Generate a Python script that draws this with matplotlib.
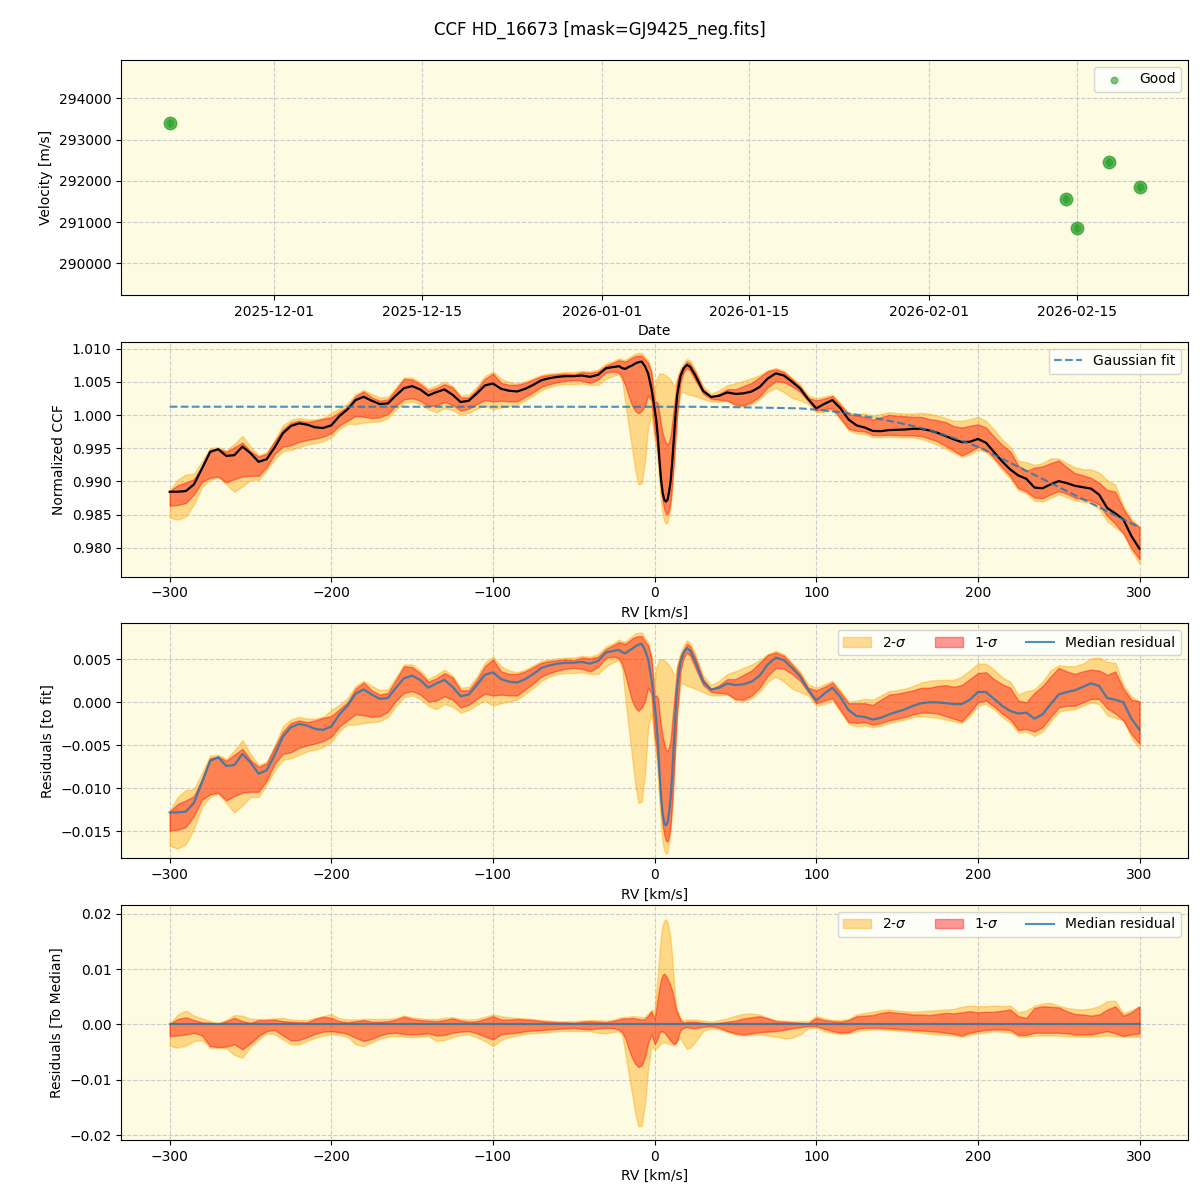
import numpy as np
import pandas as pd
import matplotlib
matplotlib.use("Agg")
import matplotlib.pyplot as plt
import matplotlib.dates as mdates
from matplotlib.patches import Patch
from matplotlib.lines import Line2D

# ---------------- data ----------------
obs_dates = pd.to_datetime(["2025-11-21 02:00", "2026-02-14 00:30", "2026-02-15 00:00",
                            "2026-02-18 01:00", "2026-02-20 23:00"])
obs_vel = [293394, 291552, 290848, 292448, 291842]
obs_err = [110, 110, 110, 110, 110]

rv = np.concatenate([np.arange(-300, -24, 5),
                     [-22, -20, -18, -16, -14, -12, -10, -8, -6, -4, -2,
                      0, 1, 2, 3, 4, 5, 6, 7, 8, 9, 10, 11, 12, 13, 14, 16, 18, 20, 22],
                     np.arange(25, 301, 5)]).astype(float)

# Gaussian fit to the CCF
gauss_fit = [
    # -300 .. -25
    1.00125, 1.00125, 1.00125, 1.00125, 1.00125, 1.00125, 1.00125, 1.00125, 1.00125, 1.00125,
    1.00125, 1.00125, 1.00125, 1.00125, 1.00125, 1.00125, 1.00125, 1.00125, 1.00125, 1.00125,
    1.00125, 1.00125, 1.00125, 1.00125, 1.00125, 1.00125, 1.00125, 1.00125, 1.00125, 1.00125,
    1.00125, 1.00125, 1.00125, 1.00125, 1.00125, 1.00125, 1.00125, 1.00125, 1.00125, 1.00125,
    1.00125, 1.00125, 1.00125, 1.00125, 1.00125, 1.00125, 1.00125, 1.00125, 1.00125, 1.00125,
    1.00125, 1.00125, 1.00125, 1.00125, 1.00125, 1.00125,
    # -22 .. 22
    1.00125, 1.00125, 1.00125, 1.00125, 1.00125, 1.00125, 1.00125, 1.00125, 1.00125, 1.00125,
    1.00125, 1.00125, 1.00125, 1.00125, 1.00125, 1.00125, 1.00125, 1.00125, 1.00125, 1.00125,
    1.00125, 1.00125, 1.00125, 1.00125, 1.00125, 1.00125, 1.00125, 1.00125, 1.00125, 1.00125,
    # 25 .. 300
    1.00124, 1.00123, 1.00122, 1.00121, 1.00120, 1.00118, 1.00116, 1.00114, 1.00112, 1.00110,
    1.00108, 1.00105, 1.00102, 1.00100, 1.00090, 1.00080, 1.00068, 1.00055, 1.00040, 1.00023,
    1.00003, 0.99982, 0.99960, 0.99937, 0.99913, 0.99888, 0.99862, 0.99833, 0.99802, 0.99768,
    0.99732, 0.99694, 0.99654, 0.99612, 0.99567, 0.99520, 0.99463, 0.99403, 0.99342, 0.99281,
    0.99220, 0.99159, 0.99098, 0.99037, 0.98976, 0.98915, 0.98855, 0.98794, 0.98733, 0.98672,
    0.98611, 0.98550, 0.98489, 0.98428, 0.98367, 0.98306,
]

# median residual to the fit (units of 1e-3)
med_res_e3 = [
    -12.8, -12.8, -12.7, -11.7, -9.3, -6.8, -6.4, -7.4, -7.3, -6.0,
    -7.0, -8.3, -7.9, -6.1, -4.0, -2.9, -2.5, -2.7, -3.1, -3.2,
    -2.8, -1.4, -0.4, 1.0, 1.5, 0.9, 0.4, 0.5, 1.7, 2.8,
    3.1, 2.6, 1.7, 2.2, 2.6, 1.8, 0.7, 0.9, 2.0, 3.2,
    3.5, 2.7, 2.4, 2.3, 2.7, 3.3, 4.0, 4.3, 4.5, 4.6,
    4.6, 4.7, 4.5, 4.8, 5.8, 6.0,
    # -22 .. 22
    6.1, 5.8, 5.7, 6.0, 6.2, 6.5, 6.7, 6.8, 6.1, 5.0, 2.8,
    -0.3, -2.0, -4.5, -8.0, -11.0, -13.0, -14.0, -14.3, -14.0, -12.8, -11.0, -8.0, -4.5, -1.0, 1.8,
    4.6, 5.8, 6.3, 6.0,
    # 25 .. 300
    4.8, 2.4, 1.5, 1.7, 2.2, 2.0, 2.1, 2.4, 3.1, 4.4,
    5.2, 4.9, 4.0, 3.0, 1.5, 0.2, 1.0, 1.7, 0.6, -0.9,
    -1.6, -1.7, -2.0, -1.8, -1.4, -1.1, -0.8, -0.4, -0.1, 0.0,
    0.0, -0.1, -0.2, -0.2, 0.3, 1.2, 1.2, 0.4, -0.4, -1.0,
    -1.3, -1.2, -1.9, -1.4, -0.2, 0.9, 1.2, 1.4, 1.8, 2.2,
    1.9, 0.5, 0.3, 0.0, -1.9, -3.2,
]

# spread of individual CCFs around the median (units of 1e-3)
sig1_hi_e3 = [
    0.1, 1.0, 1.3, 0.8, 0.4, 0.3, 0.1, 0.6, 1.2, 0.6,
    0.3, 0.8, 0.8, 0.9, 0.6, 0.5, 0.4, 0.4, 1.0, 1.4,
    1.2, 0.6, 0.4, 0.6, 0.8, 0.5, 0.5, 0.6, 0.9, 1.4,
    1.0, 0.8, 0.7, 0.6, 0.8, 1.1, 0.7, 0.5, 0.6, 1.0,
    1.5, 0.9, 0.9, 1.0, 0.9, 0.8, 0.6, 0.5, 0.4, 0.4,
    0.3, 0.5, 0.6, 0.5, 0.4, 0.7,
    0.9, 1.1, 1.1, 1.1, 1.2, 1.1, 1.0, 0.9, 1.0, 1.6, 2.4,
    1.0, 2.8, 5.0, 6.8, 8.2, 9.0, 9.2, 8.8, 8.3, 7.6, 6.8, 6.0, 4.6, 3.0, 2.2,
    0.8, 0.3, 0.5, 0.5,
    0.5, 0.3, 0.0, 0.3, 0.5, 0.7, 1.1, 1.3, 1.5, 1.1,
    0.6, 0.5, 0.4, 0.3, 0.2, 1.2, 0.8, 0.6, 0.5, 0.8,
    1.5, 1.6, 1.7, 2.1, 2.3, 2.1, 2.0, 1.8, 1.8, 1.7,
    1.9, 2.1, 2.0, 2.2, 2.4, 2.2, 2.3, 2.3, 2.5, 2.7,
    1.5, 1.2, 3.0, 3.3, 3.2, 3.1, 2.4, 1.9, 1.8, 1.6,
    1.8, 2.7, 3.3, 1.6, 2.2, 3.3,
]
sig2_hi_e3 = [
    0.2, 1.8, 2.5, 1.6, 1.1, 0.6, 0.3, 0.8, 1.7, 1.6,
    1.0, 1.0, 1.0, 1.1, 1.2, 0.9, 0.8, 0.8, 1.2, 1.5,
    1.9, 1.1, 0.9, 0.9, 1.0, 1.0, 1.0, 1.0, 1.2, 1.6,
    1.3, 1.1, 1.0, 1.0, 1.2, 1.3, 1.0, 0.9, 1.0, 1.4,
    1.8, 1.5, 1.3, 1.2, 1.1, 1.0, 0.8, 0.7, 0.6, 0.6,
    0.6, 0.7, 0.8, 0.8, 0.7, 0.9,
    1.2, 1.3, 1.4, 1.4, 1.5, 1.5, 1.4, 1.3, 1.4, 2.0, 2.6,
    2.5, 6.0, 9.0, 13.0, 16.0, 18.0, 18.8, 19.0, 18.5, 17.1, 15.0, 11.6, 7.7, 4.2, 2.6,
    1.2, 0.8, 0.9, 0.9,
    0.9, 0.7, 0.5, 0.8, 1.1, 1.6, 1.9, 2.0, 1.8, 1.2,
    0.8, 0.7, 0.6, 0.6, 0.6, 1.5, 1.1, 0.8, 0.8, 1.0,
    1.8, 2.1, 2.3, 2.6, 2.7, 2.5, 2.4, 2.3, 2.4, 2.5,
    2.6, 2.7, 2.8, 3.2, 3.4, 3.3, 3.3, 3.4, 3.3, 3.4,
    2.2, 2.5, 3.4, 3.8, 3.9, 3.4, 3.0, 2.8, 2.7, 2.9,
    3.3, 4.2, 4.3, 2.0, 2.6, 3.3,
]
sig1_lo_e3 = [
    -2.1, -2.0, -1.8, -1.5, -2.0, -3.9, -4.1, -4.0, -3.6, -4.5,
    -3.4, -2.1, -1.2, -1.0, -2.0, -2.9, -2.8, -2.3, -1.7, -1.3,
    -1.2, -1.4, -1.7, -2.4, -3.0, -2.6, -2.0, -1.6, -1.5, -1.7,
    -1.8, -1.7, -1.6, -2.0, -1.9, -1.5, -1.3, -1.2, -1.6, -2.2,
    -2.7, -1.8, -1.6, -1.5, -1.2, -1.1, -1.0, -0.9, -0.8, -0.7,
    -0.6, -0.8, -0.9, -0.7, -0.6, -0.7,
    -1.0, -1.4, -2.6, -4.4, -6.0, -7.1, -7.7, -7.4, -6.0, -3.3, -1.8,
    -3.5, -3.1, -2.4, -1.5, -1.2, -1.3, -1.4, -1.8, -2.2, -2.6, -3.0, -3.3, -3.5, -3.4, -2.8,
    -1.0, -0.6, -0.5, -0.6,
    -0.7, -0.4, -0.3, -0.6, -1.2, -1.6, -1.8, -1.6, -1.4, -1.3,
    -1.2, -1.0, -0.7, -0.5, -0.3, -0.3, -0.8, -1.2, -1.5, -1.4,
    -0.8, -0.6, -0.6, -0.6, -0.7, -0.8, -0.9, -1.0, -1.1, -1.2,
    -1.3, -1.5, -1.7, -2.0, -1.5, -1.2, -1.0, -0.9, -0.9, -1.0,
    -1.9, -1.9, -1.5, -1.5, -1.5, -1.5, -1.6, -1.8, -1.8, -1.8,
    -1.5, -1.2, -1.6, -2.1, -1.8, -1.6,
]
sig2_lo_e3 = [
    -3.9, -4.2, -3.8, -3.0, -2.8, -4.2, -4.2, -4.3, -5.5, -6.0,
    -4.0, -2.7, -1.6, -1.8, -2.7, -3.6, -3.6, -3.0, -2.4, -2.0,
    -1.8, -1.9, -2.2, -3.6, -3.9, -3.2, -2.6, -2.2, -2.1, -2.2,
    -2.3, -2.2, -2.1, -3.0, -2.8, -2.3, -1.9, -1.8, -2.3, -3.0,
    -3.9, -2.8, -2.3, -2.0, -1.7, -1.6, -1.5, -1.3, -1.2, -1.2,
    -1.2, -1.2, -1.2, -1.5, -1.6, -1.3,
    -1.2, -2.0, -5.4, -9.0, -12.4, -16.0, -18.4, -18.3, -14.5, -8.0, -4.0,
    -4.5, -4.3, -4.0, -3.7, -3.4, -3.3, -3.2, -3.3, -3.4, -3.5, -3.6, -3.7, -3.8, -3.6, -3.0,
    -2.4, -3.6, -4.4, -4.2,
    -3.2, -1.2, -0.7, -0.9, -1.3, -1.8, -2.0, -1.9, -1.8, -2.0,
    -2.2, -2.5, -2.4, -1.8, -0.7, -0.6, -1.2, -1.5, -1.7, -1.6,
    -1.2, -1.0, -0.9, -0.9, -1.0, -1.1, -1.2, -1.3, -1.5, -1.7,
    -1.8, -1.9, -2.0, -2.2, -1.9, -1.6, -1.4, -1.2, -1.3, -1.4,
    -2.2, -2.2, -2.0, -2.0, -2.0, -2.0, -2.1, -2.2, -2.2, -2.2,
    -2.1, -2.0, -2.1, -2.1, -2.2, -2.2,
]

for name, arr in [("fit", gauss_fit), ("med", med_res_e3), ("s1h", sig1_hi_e3),
                  ("s2h", sig2_hi_e3), ("s1l", sig1_lo_e3), ("s2l", sig2_lo_e3)]:
    assert len(arr) == len(rv), (name, len(arr), len(rv))

fit = np.array(gauss_fit)
med = np.array(med_res_e3) * 1e-3
s1h = np.array(sig1_hi_e3) * 1e-3
s2h = np.array(sig2_hi_e3) * 1e-3
s1l = np.array(sig1_lo_e3) * 1e-3
s2l = np.array(sig2_lo_e3) * 1e-3

# ---------------- style ----------------
BG = "#fdfbe2"
GRID = dict(color="#cccccc", linestyle="--", linewidth=0.8)
C_2S = "orange"
C_1S = "red"
A_BAND = 0.4

fig, axes = plt.subplots(4, 1, figsize=(12, 12), dpi=100)
fig.subplots_adjust(left=0.101, right=0.99, top=0.95, bottom=0.05, hspace=0.198)
fig.suptitle("CCF HD_16673 [mask=GJ9425_neg.fits]", fontsize=12, y=0.983)

for ax in axes:
    ax.set_facecolor(BG)
    ax.grid(True, **GRID)
    ax.set_axisbelow(True)

# Panel 1: RV time series
ax = axes[0]
ax.errorbar(obs_dates, obs_vel, yerr=obs_err, fmt="o", ms=9, color="tab:green",
            alpha=0.75, elinewidth=1.2, zorder=3)
ax.scatter(obs_dates, obs_vel, s=22, color="tab:green", alpha=0.6, label="Good", zorder=4)
ax.set_ylim(289230, 294930)
ax.xaxis.set_major_locator(mdates.DayLocator(bymonthday=[1, 15]))
ax.xaxis.set_major_formatter(mdates.DateFormatter("%Y-%m-%d"))
ax.ticklabel_format(axis="y", style="plain", useOffset=False)
ax.set_xlabel("Date")
ax.set_ylabel("Velocity [m/s]")
ax.legend(loc="upper right")

# Panel 2: CCF with bands and Gaussian fit
ax = axes[1]
ccf_med = fit + med
ax.fill_between(rv, ccf_med + s2l, ccf_med + s2h, color=C_2S, alpha=A_BAND)
ax.fill_between(rv, ccf_med + s1l, ccf_med + s1h, color=C_1S, alpha=A_BAND)
ax.plot(rv, ccf_med, color="black", lw=1.6)
ax.plot(rv, fit, color="tab:blue", ls="--", lw=1.5, alpha=0.8, label="Gaussian fit")
ax.set_xlim(-330, 330)
ax.set_ylim(0.97565, 1.01105)
ax.ticklabel_format(axis="y", useOffset=False)
ax.set_xlabel("RV [km/s]")
ax.set_ylabel("Normalized CCF")
ax.legend(loc="upper right")

band_handles = [Patch(facecolor=C_2S, edgecolor=C_2S, alpha=A_BAND, label=r"2-$\sigma$"),
                Patch(facecolor=C_1S, edgecolor=C_1S, alpha=A_BAND, label=r"1-$\sigma$"),
                Line2D([0], [0], color="tab:blue", lw=1.5, alpha=0.8, label="Median residual")]

# Panel 3: residuals to fit
ax = axes[2]
ax.fill_between(rv, med + s2l, med + s2h, color=C_2S, alpha=A_BAND)
ax.fill_between(rv, med + s1l, med + s1h, color=C_1S, alpha=A_BAND)
ax.plot(rv, med, color="tab:blue", lw=1.6, alpha=0.8)
ax.set_xlim(-330, 330)
ax.set_ylim(-0.01814, 0.00919)
ax.set_xlabel("RV [km/s]")
ax.set_ylabel("Residuals [to fit]")
ax.legend(handles=band_handles, loc="upper right", ncol=3)

# Panel 4: residuals to median
ax = axes[3]
ax.fill_between(rv, s2l, s2h, color=C_2S, alpha=A_BAND)
ax.fill_between(rv, s1l, s1h, color=C_1S, alpha=A_BAND)
ax.plot(rv, med - med, color="tab:blue", lw=1.6, alpha=0.8)
ax.set_xlim(-330, 330)
ax.set_ylim(-0.0209, 0.02163)
ax.set_xlabel("RV [km/s]")
ax.set_ylabel("Residuals [To Median]")
ax.legend(handles=band_handles, loc="upper right", ncol=3)

fig.savefig("out.png", dpi=100)
